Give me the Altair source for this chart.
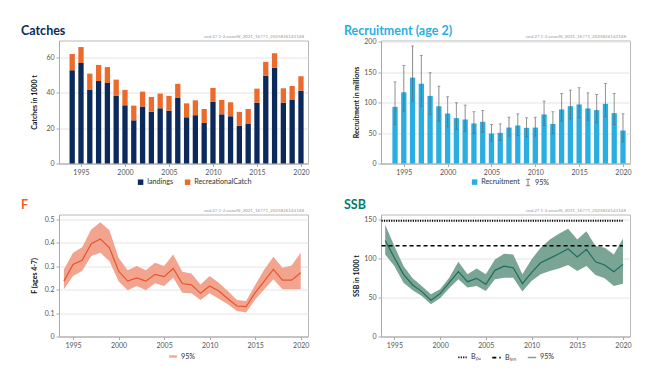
import altair as alt
import pandas as pd

# ---------------- data ----------------
years = list(range(1994, 2021))

landings = [52.7, 56.8, 41.8, 46.6, 45.5, 38.4, 32.9, 24.4, 32.2, 29.2, 31.2, 29.9, 37.0, 26.1,
            27.3, 22.9, 34.8, 27.8, 26.7, 21.4, 22.6, 34.4, 49.5, 54.2, 34.4, 35.9, 41.2]
recreational = [9.2, 9.0, 9.0, 9.1, 9.0, 9.0, 8.7, 8.3, 8.4, 8.4, 8.3, 8.3, 8.0, 7.9,
                8.4, 7.9, 7.9, 8.1, 7.9, 7.8, 8.2, 7.9, 7.9, 8.1, 8.1, 7.9, 8.1]

recruitment = [93, 117, 141, 131, 111, 94, 82, 74.5, 72.3, 65.8, 68.5, 49.3, 50.4, 59,
               62.5, 58.6, 59, 80.5, 65, 88.8, 94.2, 97, 90.4, 87.7, 98, 82.7, 54.2]
rec_low = [64, 86, 102.5, 94, 80.5, 69.6, 60.3, 56, 53, 49.3, 51.5, 36.7, 37.8, 45,
           46, 43.8, 45, 62.5, 49.3, 69.6, 73.4, 75, 71.2, 66.8, 76.7, 64, 35.6]
rec_high = [134, 161, 193, 177.5, 149, 127, 109.6, 99.7, 96, 85, 87, 64, 65, 76,
            81.6, 75, 76, 102.5, 85, 115, 120.5, 124.4, 116, 113.4, 131.5, 115, 81.6]

f_val = [0.236, 0.307, 0.325, 0.396, 0.416, 0.378, 0.279, 0.236, 0.250, 0.236, 0.265, 0.255, 0.290, 0.226,
         0.220, 0.184, 0.215, 0.194, 0.161, 0.130, 0.127, 0.187, 0.236, 0.286, 0.240, 0.240, 0.272]
f_low = [0.201, 0.258, 0.279, 0.343, 0.357, 0.321, 0.236, 0.197, 0.215, 0.197, 0.227, 0.215, 0.250, 0.187,
         0.184, 0.156, 0.184, 0.161, 0.137, 0.109, 0.102, 0.158, 0.201, 0.244, 0.201, 0.201, 0.201]
f_high = [0.286, 0.357, 0.380, 0.456, 0.487, 0.453, 0.336, 0.282, 0.300, 0.282, 0.314, 0.300, 0.350, 0.276,
          0.269, 0.222, 0.258, 0.229, 0.194, 0.156, 0.151, 0.219, 0.286, 0.340, 0.293, 0.303, 0.357]

ssb = [122.8, 100.7, 79.5, 65.9, 57.4, 46.3, 54.8, 68.8, 82.9, 70.1, 74.4, 66.7, 84.6, 90.0,
       88.0, 67.6, 81.6, 94.3, 99.9, 105.8, 112.2, 101.6, 111.4, 95.6, 91.4, 82.9, 92.2]
ssb_low = [105, 90, 68.8, 59, 51.8, 41.2, 48.9, 61.6, 73.1, 62.5, 64.6, 58.2, 73.1, 75.2,
           75.2, 57.4, 70.9, 79.5, 83.7, 87.1, 91.4, 83.7, 90.1, 78.6, 74.4, 64.6, 67.6]
ssb_high = [143, 115.6, 90, 74.4, 64.6, 54, 60.3, 75.2, 95.6, 79.5, 87.1, 79.5, 98.6, 105.8,
            105, 79.5, 98.6, 113.4, 124, 131.3, 137.7, 124, 134.7, 115.6, 113.4, 105, 125.4]

ref_labels = ["B\u209a\u2090", "B\u2097\u1d62\u2098"]
ref_values = [148, 116]
ref_start = [1993.6, 1993.6]
ref_end = [2020, 2020]

catch_series = ["landings", "RecreationalCatch"]
rec_series = ["Recruitment"]
ci_label = "95%"
year_ticks = [1995, 2000, 2005, 2010, 2015, 2020]
WM = "cod.27.1-2.coastN_2021_16771_2025826143148"

# ---------------- style ----------------
FONT = "Lato"
W = 249
HT = 123
HB = 122
NAVY = "#0b2a5b"
ORANGE = "#ec6a2c"
BLUE = "#2aaee2"
F_COL = "#ed5f26"
F_LINE = "#e5552b"
F_BAND = "#f3a48f"
SSB_COL = "#047c6c"
SSB_LINE = "#1e6d60"
SSB_BAND = "#7aa595"
ERR = "#666666"
IBEAM = "M0,-1L0,1M-0.6,-1L0.6,-1M-0.6,1L0.6,1"
FLATRECT = "M-1,-0.3L1,-0.3L1,0.3L-1,0.3Z"

n = len(years)


def xenc(dom, field="year:Q"):
    return alt.X(field, scale=alt.Scale(domain=dom, nice=False, zero=False, padding=0),
                 axis=alt.Axis(values=year_ticks, format="d", title=None, grid=False))


def yscale(dom):
    return alt.Scale(domain=dom, nice=False, zero=True, padding=0)


def watermark():
    return alt.Chart(alt.Data(values=[{"t": WM}])).mark_text(
        align="right", baseline="bottom", fontSize=4.5, color="#9a9a9a", font=FONT
    ).encode(x=alt.value(W - 4), y=alt.value(-2), text="t:N")


def ttl(text, color, dx):
    return alt.TitleParams(text=text, anchor="start", frame="group", dx=dx, color=color,
                           font=FONT, fontSize=12.5, fontWeight="bold", offset=-3.5)


# ---------------- Catches ----------------
catch_df = pd.DataFrame({
    "year": years * 2,
    "series": [catch_series[0]] * n + [catch_series[1]] * n,
    "value": landings + recreational,
    "ord": [0] * n + [1] * n,
})
c_dom = [1992.5, 2020.8]
catch_bars = alt.Chart(catch_df).mark_bar(size=5.3).encode(
    x=xenc(c_dom),
    y=alt.Y("value:Q", stack="zero", scale=yscale([0, 69.5]),
            axis=alt.Axis(title="Catches in 1000 t", values=[0, 20, 40, 60])),
    color=alt.Color("series:N", scale=alt.Scale(domain=catch_series, range=[NAVY, ORANGE]),
                    legend=alt.Legend(title=None, orient="none", legendX=78, legendY=138,
                                      direction="horizontal", symbolType="square", symbolSize=30,
                                      columnPadding=10, labelOffset=3)),
    order=alt.Order("ord:Q"),
)
catches = alt.layer(catch_bars, watermark()).properties(
    width=W, height=HT, title=ttl("Catches", NAVY, -38))

# ---------------- Recruitment ----------------
rec_df = pd.DataFrame({"year": years, "value": recruitment, "low": rec_low, "high": rec_high,
                       "series": rec_series * n, "ci": [ci_label] * n})
r_dom = [1992.4, 2020.8]
r_y = lambda f: alt.Y(f, scale=yscale([0, 202]),
                      axis=alt.Axis(title="Recruitment in millions", values=[0, 50, 100, 150, 200]))
r_bars = alt.Chart(rec_df).mark_bar(size=5.3).encode(
    x=xenc(r_dom), y=r_y("value:Q"),
    color=alt.Color("series:N", scale=alt.Scale(domain=rec_series, range=[BLUE]),
                    legend=alt.Legend(title=None, orient="none", legendX=90, legendY=138,
                                      symbolType="square", symbolSize=30, labelOffset=3)),
)
r_err = alt.Chart(rec_df).mark_rule(color=ERR, strokeWidth=0.8).encode(
    x=xenc(r_dom), y=r_y("low:Q"), y2="high:Q",
    strokeDash=alt.StrokeDash("ci:N", scale=alt.Scale(domain=[ci_label], range=[[1, 0]]),
                              legend=alt.Legend(title=None, orient="none", legendX=143, legendY=138,
                                                symbolType=IBEAM, symbolStrokeColor=ERR,
                                                symbolSize=40, symbolStrokeWidth=0.9, labelOffset=3)),
)
r_cap_hi = alt.Chart(rec_df).mark_tick(orient="horizontal", size=3, thickness=0.8, color=ERR).encode(
    x=xenc(r_dom), y=r_y("high:Q"))
r_cap_lo = alt.Chart(rec_df).mark_tick(orient="horizontal", size=3, thickness=0.8, color=ERR).encode(
    x=xenc(r_dom), y=r_y("low:Q"))
recruit = alt.layer(r_bars, r_err, r_cap_hi, r_cap_lo, watermark()).properties(
    width=W, height=HT, title=ttl("Recruitment (age 2)", BLUE, -37))

# ---------------- F ----------------
f_df = pd.DataFrame({"year": years, "f": f_val, "low": f_low, "high": f_high, "series": [ci_label] * n})
f_dom = [1993.46, 2020.8]
f_y = lambda f: alt.Y(f, scale=yscale([0, 0.52]),
                      axis=alt.Axis(title="F (ages 4-7)", values=[0, 0.1, 0.2, 0.3, 0.4, 0.5], format="~g"))
f_band = alt.Chart(f_df).mark_area(opacity=1).encode(
    x=xenc(f_dom), y=f_y("low:Q"), y2="high:Q",
    color=alt.Color("series:N", scale=alt.Scale(domain=[ci_label], range=[F_BAND]),
                    legend=alt.Legend(title=None, orient="none", legendX=109, legendY=137,
                                      symbolType=FLATRECT, symbolSize=60, labelOffset=3)),
)
f_line = alt.Chart(f_df).mark_line(color=F_LINE, strokeWidth=1.2).encode(x=xenc(f_dom), y=f_y("f:Q"))
fpanel = alt.layer(f_band, f_line, watermark()).properties(
    width=W, height=HB, title=ttl("F", F_COL, -38))

# ---------------- SSB ----------------
ssb_df = pd.DataFrame({"year": years, "ssb": ssb, "low": ssb_low, "high": ssb_high})
ref_df = pd.DataFrame({"series": ref_labels, "y": ref_values, "x1": ref_start, "x2": ref_end})
s_dom = [1993.54, 2020.77]
s_y = lambda f: alt.Y(f, scale=yscale([0, 156]),
                      axis=alt.Axis(title="SSB in 1000 t", values=[0, 50, 100, 150]))
leg_dom = ref_labels + [ci_label]
s_leg = alt.Legend(title=None, orient="none", legendX=76, legendY=137, direction="horizontal",
                   symbolType="stroke", symbolSize=70, columnPadding=8, labelOffset=3)
s_band = alt.Chart(ssb_df).mark_area(color=SSB_BAND, opacity=1).encode(
    x=xenc(s_dom), y=s_y("low:Q"), y2="high:Q")
s_line = alt.Chart(ssb_df).mark_line(color=SSB_LINE, strokeWidth=1.2).encode(
    x=xenc(s_dom), y=s_y("ssb:Q"))
s_ref = alt.Chart(ref_df).mark_rule().encode(
    x=xenc(s_dom, "x1:Q"),
    x2="x2:Q",
    y=s_y("y:Q"),
    color=alt.Color("series:N", scale=alt.Scale(domain=leg_dom, range=["#000000", "#000000", SSB_BAND]),
                    legend=s_leg),
    strokeDash=alt.StrokeDash("series:N", scale=alt.Scale(domain=leg_dom, range=[[1.2, 1.2], [4, 3], [1, 0]]),
                              legend=s_leg),
    strokeWidth=alt.StrokeWidth("series:N", scale=alt.Scale(domain=leg_dom, range=[1.8, 1.5, 3.5]),
                                legend=s_leg),
)
ssbpanel = alt.layer(s_band, s_line, s_ref, watermark()).properties(
    width=W, height=HB, title=ttl("SSB", SSB_COL, -37))

# ---------------- assemble ----------------
chart = alt.concat(
    catches, recruit, fpanel, ssbpanel,
    columns=2, spacing={"row": 51, "column": 73}, bounds="flush",
).resolve_scale(
    color="independent", strokeDash="independent", strokeWidth="independent",
    x="independent", y="independent",
).properties(
    padding={"left": 12, "top": 15.5, "right": 5, "bottom": 5},
).configure_view(
    stroke="#b8b8b8", strokeWidth=1,
).configure_axis(
    labelFont=FONT, labelFontSize=7, labelColor="#555555",
    titleFont=FONT, titleFontSize=7, titleFontWeight="bold", titleColor="#111111",
    domainColor="#aaaaaa", tickColor="#aaaaaa", gridColor="#e4e4e4",
    tickSize=3, labelPadding=2,
).configure_axisY(
    grid=True, minExtent=15, maxExtent=15, titlePadding=7,
).configure_legend(
    labelFont=FONT, labelFontSize=7.2, labelColor="#333333",
)

chart.save("out.html", embed_options={"renderer": "svg", "actions": False})
